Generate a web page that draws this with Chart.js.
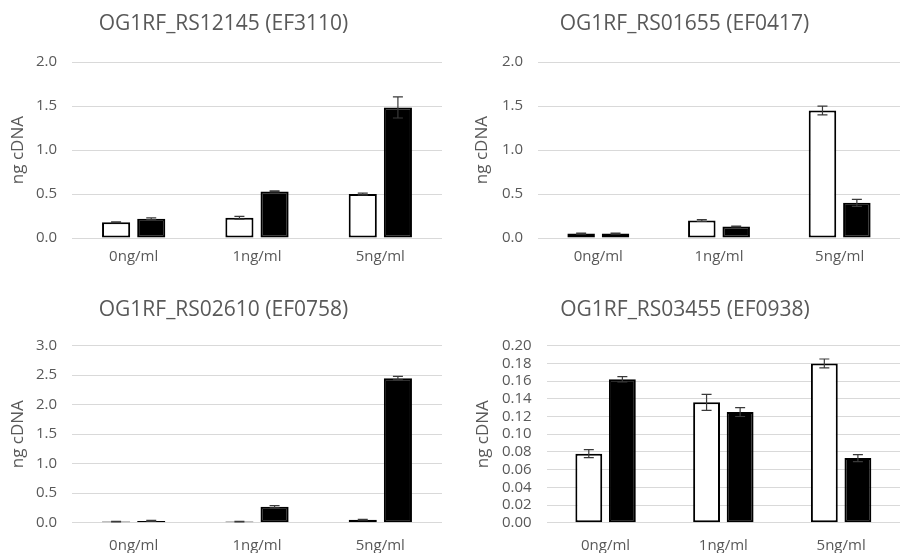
<!DOCTYPE html>
<html>
<head>
<meta charset="utf-8">
<script src="https://cdn.jsdelivr.net/npm/chart.js@4/dist/chart.umd.min.js"></script>
<style>
  html, body { margin: 0; padding: 0; background: #fff; overflow: hidden; }
  .panel { position: absolute; }
</style>
</head>
<body>
<div class="panel" style="left:0;top:0;width:450px;height:276px"><canvas id="c1"></canvas></div>
<div class="panel" style="left:450px;top:0;width:450px;height:276px"><canvas id="c2"></canvas></div>
<div class="panel" style="left:0;top:276px;width:450px;height:277px"><canvas id="c3"></canvas></div>
<div class="panel" style="left:450px;top:276px;width:450px;height:277px"><canvas id="c4"></canvas></div>
<script>
const doses = ['0ng/ml', '1ng/ml', '5ng/ml'];

// OG1RF_RS12145 (EF3110)
const rs12145White = [0.18, 0.23, 0.50];
const rs12145WhiteErr = [0.005, 0.015, 0.01];
const rs12145Black = [0.22, 0.53, 1.485];
const rs12145BlackErr = [0.01, 0.005, 0.12];

// OG1RF_RS01655 (EF0417)
const rs01655White = [0.05, 0.20, 1.45];
const rs01655WhiteErr = [0.005, 0.01, 0.05];
const rs01655Black = [0.05, 0.13, 0.40];
const rs01655BlackErr = [0.005, 0.005, 0.04];

// OG1RF_RS02610 (EF0758)
const rs02610White = [0.02, 0.02, 0.05];
const rs02610WhiteErr = [0.005, 0.005, 0.005];
const rs02610Black = [0.03, 0.27, 2.45];
const rs02610BlackErr = [0.01, 0.02, 0.03];

// OG1RF_RS03455 (EF0938)
const rs03455White = [0.078, 0.136, 0.180];
const rs03455WhiteErr = [0.0045, 0.009, 0.005];
const rs03455Black = [0.162, 0.125, 0.073];
const rs03455BlackErr = [0.003, 0.005, 0.004];

const textColor = '#595959';
const fontFamily = '"Open Sans", sans-serif';

// draws the error bars from the dataset's errors array
const errorBars = {
  id: 'errorBars',
  afterDatasetsDraw(chart) {
    const ctx = chart.ctx;
    const y = chart.scales.y;
    chart.data.datasets.forEach((ds, i) => {
      chart.getDatasetMeta(i).data.forEach((bar, j) => {
        const v = ds.data[j];
        const e = ds.errors[j];
        const top = y.getPixelForValue(v + e);
        const bot = y.getPixelForValue(v - e);
        ctx.save();
        ctx.strokeStyle = '#3a3a3a';
        ctx.lineWidth = 1.2;
        ctx.beginPath();
        ctx.moveTo(bar.x, top);
        ctx.lineTo(bar.x, bot);
        ctx.moveTo(bar.x - 5, top);
        ctx.lineTo(bar.x + 5, top);
        ctx.moveTo(bar.x - 5, bot);
        ctx.lineTo(bar.x + 5, bot);
        ctx.stroke();
        ctx.restore();
      });
    });
  },
};

function makeChart(id, title, white, whiteErr, black, blackErr, o) {
  return new Chart(document.getElementById(id), {
    type: 'bar',
    data: {
      labels: doses,
      datasets: [
        {
          data: white,
          errors: whiteErr,
          backgroundColor: '#ffffff',
          borderColor: '#000000',
          borderWidth: 2,
          borderSkipped: false,
        },
        {
          data: black,
          errors: blackErr,
          backgroundColor: '#000000',
          borderColor: '#000000',
          borderWidth: 2,
          borderSkipped: false,
        },
      ],
    },
    options: {
      responsive: true,
      maintainAspectRatio: false,
      animation: false,
      events: [],
      categoryPercentage: 0.57,
      barPercentage: 0.8,
      layout: { padding: { left: o.padLeft, right: o.padRight, top: 0, bottom: 0 } },
      plugins: {
        legend: { display: false },
        tooltip: { enabled: false },
        title: {
          display: true,
          text: title,
          color: textColor,
          font: { family: fontFamily, size: 21, weight: 'normal' },
          padding: { top: o.titleTop, bottom: o.titleBottom },
        },
      },
      scales: {
        x: {
          grid: { display: false, drawTicks: false },
          border: { display: false },
          ticks: {
            color: textColor,
            font: { family: fontFamily, size: 15 },
            padding: o.xPad,
          },
          afterFit: (s) => { s.height = o.xHeight; },
        },
        y: {
          min: 0,
          max: o.max,
          grid: { color: '#d9d9d9', lineWidth: 1, drawTicks: false },
          border: { display: false },
          ticks: {
            stepSize: o.step,
            autoSkip: false,
            color: textColor,
            font: { family: fontFamily, size: 15 },
            padding: 15,
            callback: (v) => v.toFixed(o.digits),
          },
          title: {
            display: true,
            text: 'ng cDNA',
            color: textColor,
            font: { family: fontFamily, size: 17 },
            padding: { top: 3, bottom: 3 },
          },
          afterFit: (s) => { s.width = o.yWidth; },
        },
      },
    },
    plugins: [errorBars],
  });
}

makeChart('c1', 'OG1RF_RS12145 (EF3110)', rs12145White, rs12145WhiteErr, rs12145Black, rs12145BlackErr,
  { max: 2, step: 0.5, digits: 1, padLeft: 5, padRight: 8, yWidth: 67, titleTop: 11, titleBottom: 26, xPad: 10, xHeight: 38 });
makeChart('c2', 'OG1RF_RS01655 (EF0417)', rs01655White, rs01655WhiteErr, rs01655Black, rs01655BlackErr,
  { max: 2, step: 0.5, digits: 1, padLeft: 19, padRight: 0, yWidth: 69, titleTop: 11, titleBottom: 26, xPad: 10, xHeight: 38 });
makeChart('c3', 'OG1RF_RS02610 (EF0758)', rs02610White, rs02610WhiteErr, rs02610Black, rs02610BlackErr,
  { max: 3, step: 0.5, digits: 1, padLeft: 5, padRight: 8, yWidth: 67, titleTop: 21, titleBottom: 23.5, xPad: 14, xHeight: 30.3 });
makeChart('c4', 'OG1RF_RS03455 (EF0938)', rs03455White, rs03455WhiteErr, rs03455Black, rs03455BlackErr,
  { max: 0.2, step: 0.02, digits: 2, padLeft: 20, padRight: 0, yWidth: 76.7, titleTop: 21, titleBottom: 23.5, xPad: 14, xHeight: 30.3 });
</script>
</body>
</html>
